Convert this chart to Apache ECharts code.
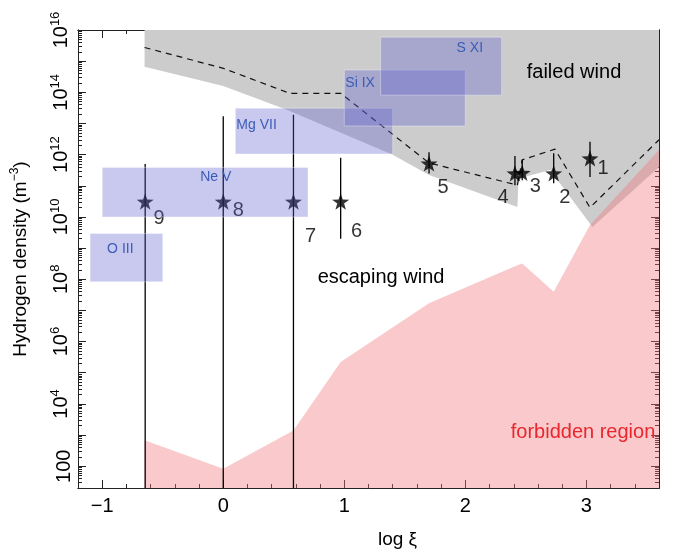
<!DOCTYPE html>
<html>
<head>
<meta charset="utf-8">
<script src="https://cdn.jsdelivr.net/npm/echarts@6/dist/echarts.min.js"></script>
<style>
  html, body { margin: 0; padding: 0; background: #fff; }
  #chart { width: 673px; height: 557px; }
</style>
</head>
<body>
<div id="chart"></div>
<script>
// x = log xi, y = hydrogen density in m^-3 (drawn on a log10 scale)
const starNames = ['1', '2', '3', '4', '5', '6', '7', '8', '9']
const starXi = [3.03, 2.73, 2.47, 2.41, 1.70, 0.97, 0.58, 0.0, -0.645]
const starDensity = [7.6e11, 2.5e11, 2.6e11, 2.5e11, 5.2e11, 3.1e10, 3.1e10, 3.1e10, 3.1e10]
const errHigh = [2.6e12, 1.1e12, 6.8e11, 9e11, 1.2e12, 8e11, 1.9e13, 1.7e13, 5e11]
const errLow = [1.9e11, 1.2e11, 1.5e11, 1.05e11, 2.5e11, 2e9, 1, 1, 1] // 1 = runs off the bottom

const ionNames = ['O III', 'Ne V', 'Mg VII', 'Si IX', 'S XI']
const ionXiLow = [-1.1, -1.0, 0.1, 1.0, 1.3]
const ionXiHigh = [-0.5, 0.7, 1.4, 2.0, 2.3]
const ionDensityLow = [8.3e7, 1e10, 1.05e12, 8.3e12, 8.1e13]
const ionDensityHigh = [2.95e9, 3.9e11, 3.1e13, 5.2e14, 5.9e15]

// lower edge of the "failed wind" region (it fills up to the top)
const failedXi = [-0.65, 0, 0.53, 1.4, 1.7, 2.43, 2.44, 2.70, 3.05, 3.6]
const failedDensity = [6.6e14, 1.6e14, 2.7e13, 1e12, 2.2e11, 2.1e10, 1.7e11, 3.2e11, 4.8e9, 4e11]

// dashed boundary
const dashXi = [-0.65, 0, 0.55, 0.97, 1.7, 2.43, 2.47, 2.74, 3.03, 3.6]
const dashDensity = [2.75e15, 5.9e14, 9.3e13, 9.3e13, 5.4e11, 1.05e11, 6.8e11, 1.5e12, 2e10, 3e12]

// upper edge of the forbidden region (it fills down to the bottom)
const forbidXi = [-0.65, 0, 0.58, 0.97, 1.70, 2.40, 2.47, 2.73, 3.03, 3.6]
const forbidDensity = [680, 83, 1400, 2.2e5, 1.7e7, 2.5e8, 3.2e8, 4e7, 5.5e9, 1.4e12]

// axis ticks
const xLabelValues = [-1, 0, 1, 2, 3]
const yLabelExponents = [2, 4, 6, 8, 10, 12, 14, 16]

const L = Math.log10
const FONT = '"Liberation Sans", Arial, Helvetica, sans-serif'
const X_MIN = -1.2
const X_MAX = 3.6
const Y_MIN = L(20)
const Y_MAX = 16

const xMinorTicks = []
for (let k = -6; k <= 18; k++) xMinorTicks.push(k / 5)
const yMajorTicks = []
for (let e = 2; e <= 16; e++) yMajorTicks.push(e)
const yMinorTicks = []
for (let e = 1; e < 16; e++) {
  for (let m = 2; m <= 9; m++) {
    const v = e + L(m)
    if (v > Y_MIN) yMinorTicks.push(v)
  }
}

// where each star's number sits, relative to the star (px)
const numberOffsets = [[13, 10], [11, 24], [13, 14], [-12, 24], [14, 24], [16, 30], [17, 35], [15, 9], [14, 17]]
// where each ion name sits inside its box, from the box's top-left corner (px)
const ionLabelOffsets = [[17, 16], [98, 10], [1, 17], [1, 13], [76, 11]]

const STAR = 'path://M0,-10L2.35,-3.24L9.51,-3.09L3.8,1.24L5.88,8.09L0,4L-5.88,8.09L-3.8,1.24L-9.51,-3.09L-2.35,-3.24Z'

const rich = {
  base: { fontSize: 20, fontFamily: FONT, color: '#000' },
  sup: { fontSize: 13, fontFamily: FONT, color: '#000', padding: [0, 0, 12, 0] }
}
const titleRich = {
  base: { fontSize: 19, fontFamily: FONT, color: '#000' },
  sup: { fontSize: 12, fontFamily: FONT, color: '#000', padding: [0, 0, 11, 0] }
}

function polygonSeries (xs, ys, closeY, fill, z) {
  return {
    type: 'custom',
    z: z,
    silent: true,
    data: [[xs[0], L(ys[0])]],
    renderItem: function (params, api) {
      const pts = xs.map((x, i) => api.coord([x, L(ys[i])]))
      pts.push(api.coord([xs[xs.length - 1], closeY]))
      pts.push(api.coord([xs[0], closeY]))
      return { type: 'polygon', shape: { points: pts }, style: { fill: fill } }
    }
  }
}

function axisFrame (pos, ticks, len, withLabels) {
  return { pos, ticks, len, withLabels }
}

function makeX (f) {
  return {
    type: 'value',
    min: X_MIN,
    max: X_MAX,
    position: f.pos,
    axisLine: { show: true, onZero: false, lineStyle: { color: '#222', width: 1 } },
    axisTick: { show: true, inside: true, length: f.len, customValues: f.ticks, lineStyle: { color: '#222', width: 1 } },
    axisLabel: f.withLabels ? {
      show: true,
      customValues: xLabelValues,
      fontSize: 20,
      fontFamily: FONT,
      color: '#000',
      margin: 8,
      formatter: v => (v < 0 ? '\u2212' + Math.abs(v) : String(v))
    } : { show: false },
    splitLine: { show: false },
    name: f.withLabels ? 'log \u03be' : '',
    nameLocation: 'middle',
    nameGap: 42,
    nameTextStyle: { fontSize: 19, fontFamily: FONT, color: '#000', padding: [0, 0, 0, 58] }
  }
}

function makeY (f) {
  return {
    type: 'value',
    min: Y_MIN,
    max: Y_MAX,
    position: f.pos,
    axisLine: { show: true, onZero: false, lineStyle: { color: '#222', width: 1 } },
    axisTick: { show: true, inside: true, length: f.len, customValues: f.ticks, lineStyle: { color: '#222', width: 1 } },
    axisLabel: f.withLabels ? {
      show: true,
      rotate: 90,
      customValues: yLabelExponents,
      margin: 4,
      rich: rich,
      formatter: v => {
        const e = Math.round(v)
        return e === 2 ? '{base|100}' : '{base|10}{sup|' + e + '}'
      }
    } : { show: false },
    splitLine: { show: false },
    name: f.withLabels ? '{base|Hydrogen density (m}{sup|\u22123}{base|)}' : '',
    nameLocation: 'middle',
    nameRotate: 90,
    nameGap: 46,
    nameTextStyle: { rich: titleRich }
  }
}

const option = {
  animation: false,
  backgroundColor: '#fff',
  grid: { left: 78, right: 14, top: 30, bottom: 69, containLabel: false, outerBoundsMode: 'none' },
  xAxis: [
    makeX(axisFrame('bottom', xLabelValues, 8, true)),
    makeX(axisFrame('bottom', xMinorTicks, 4, false)),
    makeX(axisFrame('top', xLabelValues, 8, false)),
    makeX(axisFrame('top', xMinorTicks, 4, false))
  ],
  yAxis: [
    makeY(axisFrame('left', yMajorTicks, 8, true)),
    makeY(axisFrame('left', yMinorTicks, 4, false)),
    makeY(axisFrame('right', yMajorTicks, 8, false)),
    makeY(axisFrame('right', yMinorTicks, 4, false))
  ],
  series: [
    polygonSeries(failedXi, failedDensity, Y_MAX, '#cccccc', 1),
    polygonSeries(forbidXi, forbidDensity, Y_MIN, 'rgba(240,120,125,0.4)', 2),
    {
      type: 'line',
      z: 3,
      silent: true,
      symbol: 'none',
      data: dashXi.map((x, i) => [x, L(dashDensity[i])]),
      lineStyle: { color: '#111', width: 1.2, type: [6, 5] }
    },
    {
      type: 'custom',
      z: 4,
      silent: true,
      data: starXi.map((x, i) => [x, L(starDensity[i])]),
      renderItem: function (params, api) {
        const i = params.dataIndex
        const top = api.coord([starXi[i], L(errHigh[i])])
        const bot = api.coord([starXi[i], Math.max(L(errLow[i]), Y_MIN)])
        return {
          type: 'line',
          shape: { x1: top[0], y1: top[1], x2: bot[0], y2: bot[1] },
          style: { stroke: '#000', lineWidth: 1.3 }
        }
      }
    },
    {
      type: 'scatter',
      z: 5,
      silent: true,
      symbol: STAR,
      symbolSize: [17, 16.2],
      itemStyle: { color: '#000' },
      data: starXi.map((x, i) => ({
        value: [x, L(starDensity[i])],
        name: starNames[i],
        label: { offset: numberOffsets[i] }
      })),
      label: {
        show: true,
        position: 'inside',
        formatter: p => p.name,
        fontSize: 20,
        fontFamily: FONT,
        color: '#000'
      }
    },
    {
      type: 'custom',
      z: 6,
      silent: true,
      data: ionNames.map((n, i) => [ionXiLow[i], L(ionDensityLow[i])]),
      renderItem: function (params, api) {
        const i = params.dataIndex
        const p0 = api.coord([ionXiLow[i], L(ionDensityHigh[i])])
        const p1 = api.coord([ionXiHigh[i], L(ionDensityLow[i])])
        return {
          type: 'group',
          children: [
            {
              type: 'rect',
              shape: { x: p0[0], y: p0[1], width: p1[0] - p0[0], height: p1[1] - p0[1] },
              style: { fill: 'rgba(90,90,205,0.33)', stroke: 'rgba(255,255,255,0.35)', lineWidth: 1 }
            },
            {
              type: 'text',
              x: p0[0] + ionLabelOffsets[i][0],
              y: p0[1] + ionLabelOffsets[i][1],
              style: {
                text: ionNames[i],
                fill: '#3a5cb6',
                font: '14px ' + FONT,
                textAlign: 'left',
                textVerticalAlign: 'middle'
              }
            }
          ]
        }
      }
    }
  ],
  graphic: [
    { type: 'text', x: 574, y: 72, z: 100, style: { text: 'failed wind', font: '20px ' + FONT, fill: '#000', textAlign: 'center', textVerticalAlign: 'middle' } },
    { type: 'text', x: 381, y: 277, z: 100, style: { text: 'escaping wind', font: '20px ' + FONT, fill: '#000', textAlign: 'center', textVerticalAlign: 'middle' } },
    { type: 'text', x: 583, y: 432, z: 100, style: { text: 'forbidden region', font: '20px ' + FONT, fill: '#e8262d', textAlign: 'center', textVerticalAlign: 'middle' } }
  ]
}

const myChart = echarts.init(document.getElementById('chart'))
myChart.setOption(option)
</script>
</body>
</html>
